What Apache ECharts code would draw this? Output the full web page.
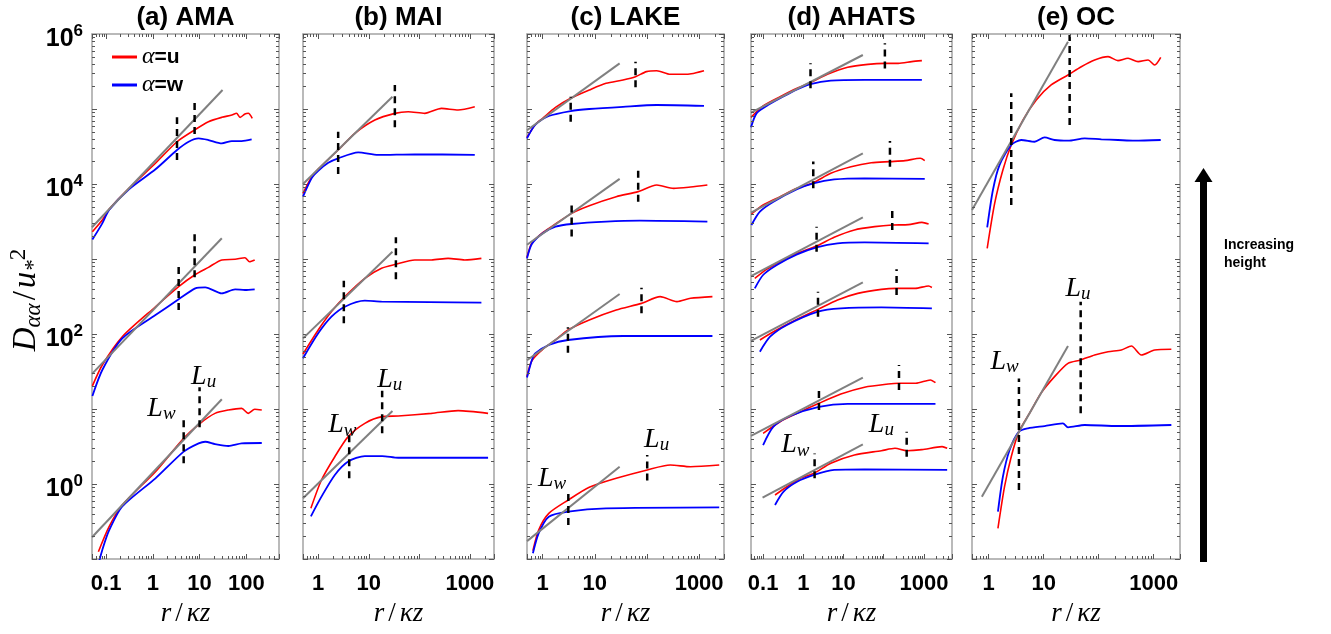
<!DOCTYPE html>
<html><head><meta charset="utf-8">
<script src="https://cdn.jsdelivr.net/npm/echarts@6/dist/echarts.min.js"></script>
<style>html,body{margin:0;padding:0;background:#fff}#c{width:1331px;height:634px}</style>
</head><body><div id="c"></div>
<script>
// ---------------- DATA ----------------
const panelTitles = ['(a) AMA', '(b) MAI', '(c) LAKE', '(d) AHATS', '(e) OC'];
const xMin = [0.05, 0.5, 0.5, 0.05, 0.5];
const xMax = [500, 3000, 3000, 5000, 3000];
const yMin = 0.1, yMax = 1e6;
const xTickLabels = [[0.1, 1, 10, 100], [1, 10, 1000], [1, 10, 1000], [0.1, 1, 10, 1000], [1, 10, 1000]];
const yTickLabels = [1, 100, 10000, 1000000];
const minorSteps = [2, 3, 4, 5, 6, 7, 8, 9];

// (a) AMA : groups from top to bottom
const uA = [
  [[0.051,2310],[0.083,3310],[0.116,4590],[0.309,8750],[1.14,18900],[3.29,36600],[7.83,52500],[15.5,67600],[29.9,77400],[49,83200],[61.7,87700],[73.5,77400],[93.3,85700],[110,87700],[134,75200]],
  [[0.051,20.3],[0.083,38.6],[0.222,92.0],[1.14,231],[3.57,428],[7.83,612],[15.5,774],[29.9,971],[57.5,991],[93.3,1040],[117,920],[151,971]],
  [[0.0685,0.125],[0.116,0.270],[0.222,0.525],[1.14,1.46],[4.57,4.06],[10.3,6.44],[21.4,8.75],[41.4,9.70],[79.4,10.2],[110,8.75],[151,9.91],[214,9.70]]
];
const wA = [
  [[0.051,1820],[0.083,2990],[0.116,4500],[0.309,8510],[1.14,15700],[3.29,28400],[5.83,36600],[9.55,40600],[15.5,38600],[29.9,34800],[49,37400],[79.4,37400],[130,39400]],
  [[0.051,14.9],[0.083,33.1],[0.222,87.5],[1.14,179],[3.57,290],[8.09,406],[13.2,419],[29.9,348],[57.5,394],[93.3,386],[151,394]],
  [[0.0685,0.085],[0.083,0.132],[0.116,0.240],[0.222,0.501],[1.14,1.19],[4.57,2.70],[9.55,3.48],[13.2,3.66],[21.4,3.41],[41.4,3.21],[79.4,3.48],[214,3.52]]
];
const fitA = [[[0.05,2650],[31,179000]], [[0.05,29.4],[29.9,1890]], [[0.05,0.195],[29.9,13.5]]];
const lwA = [[3.29,20900,77400],[3.57,209,791],[4.57,1.89,7.13]];
const luA = [[7.83,46500,132000],[7.83,570,2150],[10.0,5.70,19.5]];

// (b) MAI
const uB = [
  [[0.5,7520],[0.738,12300],[1.0,15800],[2.48,28400],[5.31,47400],[13.2,71300],[32.8,87500],[60.1,92000],[128,87500],[274,102000],[585,97000],[1250,107000]],
  [[0.5,54.1],[1.0,113],[1.83,199],[3.37,315],[8.36,552],[17.9,752],[34.4,849],[81.3,971],[174,971],[371,1020],[791,971],[1690,1020]],
  [[0.716,0.474],[1.16,1.13],[2.13,2.31],[3.92,4.28],[8.36,6.44],[18.4,7.91],[38.1,8.07],[174,8.75],[585,9.51],[2290,8.75]]
];
const wB = [
  [[0.5,6780],[0.738,11900],[1.0,15000],[1.58,19200],[2.48,22000],[6.17,26400],[15.3,24400],[81.3,24900],[1250,24400]],
  [[0.5,47.4],[1.0,102],[1.83,170],[3.37,231],[8.36,278],[17.9,270],[158,266],[1690,262]],
  [[0.716,0.371],[1.16,0.678],[2.13,1.32],[3.92,1.99],[8.36,2.36],[18.4,2.36],[38.1,2.24],[2290,2.24]]
];
const fitB = [[[0.5,10000],[29.4,146000]], [[0.5,87.5],[29.4,1250]], [[0.5,0.644],[29.4,9.40]]];
const lwB = [[2.48,13600,49900],[3.21,139,514],[4.10,1.19,4.50]];
const luB = [[32.8,57000,209000],[34.4,536,1950],[18.4,4.74,17.5]];

// (c) LAKE
const uC = [
  [[0.5,41900],[0.718,61700],[1.0,75200],[1.76,105000],[3.44,139000],[7.82,179000],[16.4,220000],[34.7,244000],[60.3,270000],[97.7,315000],[154,324000],[280,290000],[507,290000],[708,295000],[1240,324000]],
  [[0.5,1050],[0.619,1620],[1.0,2240],[1.76,2930],[3.59,4060],[7.82,5140],[25.7,6780],[67.8,7910],[154,9700],[324,8750],[684,9120],[1440,9700]],
  [[0.5,27.0],[0.619,44.0],[1.0,62.5],[1.76,83.2],[3.05,113],[7.82,154],[25.7,209],[78.5,256],[179,315],[376,270],[684,299],[1800,315]],
  [[0.649,0.129],[0.836,0.244],[1.31,0.406],[3.10,0.612],[7.82,0.904],[25.7,1.19],[101,1.54],[280,1.79],[684,1.70],[2430,1.79]]
];
const wC = [
  [[0.5,40600],[0.718,61200],[1.31,80700],[3.44,94000],[7.82,100000],[34.7,107000],[154,113000],[1240,110000]],
  [[0.5,1020],[0.619,1580],[1.0,2200],[1.76,2700],[3.59,2930],[16.4,3150],[73.1,3240],[1440,3150]],
  [[0.5,26.3],[0.619,44.7],[0.718,55.2],[1.31,71.3],[3.05,83.2],[34.7,94.0],[1800,94.0]],
  [[0.649,0.119],[0.836,0.220],[1.31,0.366],[3.10,0.428],[16.4,0.474],[2430,0.489]]
];
const fitC = [[[0.5,52100],[29.9,406000]], [[0.5,1550],[29.9,11700]], [[0.5,44.6],[29.9,341]], [[0.5,0.173],[29.9,1.70]]];
const lwC = [[3.44,67800,146000],[3.59,1990,5520],[3.05,56.4,123],[3.10,0.284,0.815]];
const luC = [[60.3,195000,428000],[67.8,5810,17000],[78.5,189,415],[101,1.11,2.44]];

// (d) AHATS
const uD = [
  [[0.05,77400],[0.1,110000],[0.265,146000],[0.698,189000],[1.51,224000],[3.98,290000],[12.7,360000],[40.5,394000],[107,406000],[231,406000],[499,428000],[891,441000]],
  [[0.0513,3980],[0.1,5250],[0.265,6780],[0.698,8750],[1.77,10400],[4.82,13900],[15.4,17000],[49.0,19200],[143,19900],[340,20500],[813,22000],[1050,20500]],
  [[0.0621,552],[0.122,728],[0.265,920],[0.698,1190],[2.14,1490],[5.86,1950],[18.7,2440],[59.7,2700],[163,2840],[412,2870],[891,3080],[1310,2930]],
  [[0.0832,83.2],[0.181,107],[0.698,157],[2.32,213],[7.11,284],[22.6,348],[87.5,394],[209,406],[607,406],[1310,437],[1580,417]],
  [[0.1,4.74],[0.265,6.77],[0.698,8.75],[2.45,11.9],[8.61,15.8],[33.4,19.5],[129,21.5],[240,22.0],[631,22.0],[1450,24.4],[1940,22.4]],
  [[0.198,0.713],[0.391,0.920],[0.845,1.19],[1.84,1.39],[4.82,1.89],[18.7,2.44],[87.5,2.78],[191,2.99],[373,2.78],[891,2.87],[2840,3.15],[3790,2.99]]
];
const wD = [
  [[0.05,57000],[0.0685,87500],[0.122,110000],[0.265,139000],[0.698,183000],[1.51,215000],[4.82,239000],[33.4,244000],[891,244000]],
  [[0.0513,2840],[0.0832,4280],[0.181,5810],[0.698,8510],[1.77,10200],[5.86,11500],[33.4,11900],[1050,11700]],
  [[0.0621,406],[0.1,612],[0.219,832],[0.698,1150],[2.14,1430],[7.11,1620],[33.4,1670],[1310,1620]],
  [[0.0832,58.1],[0.149,92.0],[0.391,132],[2.32,199],[8.61,220],[87.5,227],[1580,220]],
  [[0.1,3.31],[0.181,5.81],[0.473,8.07],[2.45,10.7],[12.7,11.7],[1940,11.7]],
  [[0.198,0.525],[0.323,0.791],[0.698,1.07],[1.84,1.32],[5.86,1.54],[33.4,1.57],[3790,1.54]]
];
const fitD = [[[0.05,89300],[30.3,525000]], [[0.05,4150],[30.3,25600]], [[0.05,593],[30.3,3600]], [[0.05,80.7],[30.3,489]], [[0.05,4.37],[30.3,26.2]], [[0.097,0.658],[30.3,3.38]]];
const lwD = [[1.51,189000,406000],[1.77,8750,19900],[2.14,1250,2700],[2.32,170,366],[2.45,9.70,18.9],[1.91,1.19,2.56]];
const luD = [[107,348000,752000],[143,17000,37400],[163,2440,5090],[209,331,728],[240,17.9,38.6],[373,2.31,4.99]];

// (e) OC
const uE = [
  [[0.944,1390],[1.29,5520],[1.82,15400],[2.58,33100],[4.21,71300],[7.35,132000],[13.7,209000],[27.7,284000],[48.3,366000],[84.5,450000],[148,499000],[224,441000],[341,474000],[519,428000],[787,450000],[1040,386000],[1340,489000]],
  [[1.48,0.256],[1.95,0.920],[2.58,2.31],[3.56,4.99],[5.56,8.81],[9.04,16.4],[15.8,27.0],[27.7,40.6],[47.1,45.0],[84.5,52.5],[148,58.1],[258,61.2],[393,69.2],[596,52.5],[1040,61.2],[2090,62.5]]
];
const wE = [
  [[0.944,2640],[1.20,8320],[1.58,17900],[2.58,33100],[3.92,38600],[6.85,36600],[10.4,41900],[15.8,38600],[27.7,37800],[55.6,40600],[112,39400],[224,38600],[451,37800],[1340,38600]],
  [[1.48,0.428],[1.82,1.25],[2.41,2.84],[3.56,4.99],[5.19,5.52],[10.4,5.93],[22.4,6.44],[27.7,5.70],[55.6,6.12],[224,5.93],[2090,6.12]]
];
const fitE = [[[0.5,4500],[27.7,791000]], [[0.755,0.678],[27.7,69.2]]];
const lwE = [[2.58,5250,162000],[3.56,0.832,25.6]];
const luE = [[29.7,61200,971000],[47.1,8.75,270]];

// positions (data coords) of the L_w / L_u annotations
const lwLabel = [[1.53,10.2],[3.0,6.1],[1.51,1.19],[0.632,3.31],[1.95,42.8]];
const luLabel = [[12.2,27],[26.1,24.4],[153,3.95],[87.5,6.12],[42.0,406]];

// ---------------- LAYOUT / STYLE ----------------
const grids = [[92,187],[303,191],[527,197],[751,201],[972,208]];
const GTOP = 34, GH = 525;
const SANS = 'Liberation Sans, Arial, sans-serif';
const SERIF = 'Liberation Serif, Times New Roman, serif';
const panels = [
  {u:uA, w:wA, fit:fitA, lw:lwA, lu:luA},
  {u:uB, w:wB, fit:fitB, lw:lwB, lu:luB},
  {u:uC, w:wC, fit:fitC, lw:lwC, lu:luC},
  {u:uD, w:wD, fit:fitD, lw:lwD, lu:luD},
  {u:uE, w:wE, fit:fitE, lw:lwE, lu:luE}
];
const AX = '#a3a3a3', TK = '#555';
function near(v, t) { return Math.abs(Math.log10(v) - Math.log10(t)) < 1e-6; }

const option = {
  animation: false,
  backgroundColor: '#fff',
  grid: [], xAxis: [], yAxis: [], series: [],
  legend: {
    data: [{name: 'α=u', icon: 'rect'}, {name: 'α=w', icon: 'rect'}],
    orient: 'vertical', left: 112, top: 45, padding: 0,
    itemWidth: 25, itemHeight: 3, itemGap: 4,
    formatter: n => n === 'α=u' ? '{a|α}{b|=u}' : '{a|α}{b|=w}',
    textStyle: {
      rich: {
        a: {fontFamily: SERIF, fontStyle: 'italic', fontSize: 24, color: '#000', lineHeight: 24},
        b: {fontFamily: SANS, fontWeight: 'bold', fontSize: 21, color: '#000', lineHeight: 24}
      }
    }
  },
  graphic: []
};

panels.forEach((p, i) => {
  const [gl, gw] = grids[i];
  option.grid.push({left: gl, top: GTOP, width: gw, height: GH, containLabel: false});
  const baseX = {
    type: 'log', logBase: 10, gridIndex: i, min: xMin[i], max: xMax[i],
    axisLine: {show: true, onZero: false, lineStyle: {color: AX, width: 1.5}},
    axisTick: {show: true, inside: true, length: 5, lineStyle: {color: TK, width: 1}},
    splitLine: {show: false}, minorTick: {show: false}
  };
  option.xAxis.push(Object.assign({}, baseX, {
    position: 'bottom',
    axisLabel: {
      show: true, margin: 14, color: '#000', fontFamily: SANS, fontWeight: 'bold', fontSize: 22,
      formatter: v => { const t = xTickLabels[i].find(tt => near(v, tt)); return t === undefined ? '' : String(t); }
    },
    name: '{r|r}{s|/}{r|κz}', nameLocation: 'middle', nameGap: 41,
    nameTextStyle: {
      rich: {
        r: {fontFamily: SERIF, fontStyle: 'italic', fontSize: 27, color: '#000'},
        s: {fontFamily: SERIF, fontSize: 27, color: '#000', padding: [0, 4, 0, 4]}
      }
    }
  }));
  option.xAxis.push(Object.assign({}, baseX, {position: 'top', axisLabel: {show: false}}));
  const baseY = {
    type: 'log', logBase: 10, gridIndex: i, min: yMin, max: yMax,
    axisLine: {show: true, onZero: false, lineStyle: {color: AX, width: 1.5}},
    axisTick: {show: true, inside: true, length: 5, lineStyle: {color: TK, width: 1}},
    splitLine: {show: false}, minorTick: {show: false}
  };
  option.yAxis.push(Object.assign({}, baseY, {
    position: 'left',
    axisLabel: i === 0 ? {
      show: true, margin: 9, padding: [10, 0, 0, 0],
      formatter: v => {
        const t = yTickLabels.find(tt => near(v, tt));
        return t === undefined ? '' : '{b|10}{s|' + Math.round(Math.log10(t)) + '}';
      },
      rich: {
        b: {fontFamily: SANS, fontWeight: 'bold', fontSize: 25, color: '#000', lineHeight: 32},
        s: {fontFamily: SANS, fontWeight: 'bold', fontSize: 17, color: '#000', lineHeight: 17, verticalAlign: 'top'}
      }
    } : {show: false}
  }));
  option.yAxis.push(Object.assign({}, baseY, {position: 'right', axisLabel: {show: false}}));

  const xi = 2 * i, yi = 2 * i;
  p.u.forEach(d => option.series.push({
    name: 'α=u', type: 'line', xAxisIndex: xi, yAxisIndex: yi, data: d, symbol: 'none', smooth: 0.25,
    lineStyle: {color: '#ff0000', width: 1.6}, itemStyle: {color: '#ff0000'}, z: 2
  }));
  p.w.forEach(d => option.series.push({
    name: 'α=w', type: 'line', xAxisIndex: xi, yAxisIndex: yi, data: d, symbol: 'none', smooth: 0.25,
    lineStyle: {color: '#0000ff', width: 1.8}, itemStyle: {color: '#0000ff'}, z: 2
  }));
  p.fit.forEach(d => option.series.push({
    name: 'fit', type: 'line', xAxisIndex: xi, yAxisIndex: yi, data: d, symbol: 'none',
    lineStyle: {color: '#808080', width: 2}, z: 3
  }));
  p.lw.concat(p.lu).forEach(m => option.series.push({
    name: 'L', type: 'line', xAxisIndex: xi, yAxisIndex: yi, data: [[m[0], m[1]], [m[0], m[2]]], symbol: 'none',
    lineStyle: {color: '#000', width: 2.5, type: [7, 5]}, z: 4
  }));
  const labRich = {
    i: {fontFamily: SERIF, fontStyle: 'italic', fontSize: 28, color: '#000', lineHeight: 30},
    s: {fontFamily: SERIF, fontStyle: 'italic', fontSize: 19, color: '#000', lineHeight: 19, verticalAlign: 'bottom'}
  };
  [[lwLabel[i], 'w'], [luLabel[i], 'u']].forEach(([pos, sub]) => option.series.push({
    name: 'lab', type: 'scatter', xAxisIndex: xi, yAxisIndex: yi, data: [pos], symbolSize: 2,
    itemStyle: {color: 'rgba(0,0,0,0)'}, silent: true, z: 6,
    label: {show: true, position: 'inside', opacity: 1, color: '#000', formatter: '{i|L}{s|' + sub + '}', rich: labRich}
  }));
  // minor ticks on all four sides (log 2..9 sub-decades)
  option.series.push({
    type: 'custom', xAxisIndex: xi, yAxisIndex: yi, silent: true, clip: false, z: 5,
    data: [[1, 1]],
    renderItem: function (params, api) {
      const cs = params.coordSys;
      const ch = [];
      const st = {stroke: TK, lineWidth: 1};
      for (let e = Math.floor(Math.log10(xMin[i])); e <= Math.ceil(Math.log10(xMax[i])); e++) {
        minorSteps.forEach(m => {
          const v = m * Math.pow(10, e);
          if (v <= xMin[i] || v >= xMax[i]) return;
          const px = Math.round(api.coord([v, 1])[0]) + 0.5;
          ch.push({type: 'line', shape: {x1: px, y1: cs.y + cs.height, x2: px, y2: cs.y + cs.height - 3}, style: st});
          ch.push({type: 'line', shape: {x1: px, y1: cs.y, x2: px, y2: cs.y + 3}, style: st});
        });
      }
      for (let e = Math.floor(Math.log10(yMin)); e <= Math.ceil(Math.log10(yMax)); e++) {
        minorSteps.forEach(m => {
          const v = m * Math.pow(10, e);
          if (v <= yMin || v >= yMax) return;
          const py = Math.round(api.coord([1, v])[1]) + 0.5;
          ch.push({type: 'line', shape: {x1: cs.x, y1: py, x2: cs.x + 3, y2: py}, style: st});
          ch.push({type: 'line', shape: {x1: cs.x + cs.width, y1: py, x2: cs.x + cs.width - 3, y2: py}, style: st});
        });
      }
      return {type: 'group', children: ch};
    }
  });
  option.graphic.push({
    type: 'text', x: gl + gw / 2, y: 18,
    style: {text: panelTitles[i], font: 'bold 26px ' + SANS, fill: '#000', textAlign: 'center', textVerticalAlign: 'middle'}
  });
});

// y axis title
option.graphic.push({
  type: 'text', x: 26, y: 300, rotation: Math.PI / 2,
  style: {
    text: '{d|D}{s|αα}{n|/}{d|u}{s|*}{p|2}', textAlign: 'center', textVerticalAlign: 'middle',
    rich: {
      d: {fontFamily: SERIF, fontStyle: 'italic', fontSize: 33, fill: '#000', lineHeight: 38},
      n: {fontFamily: SERIF, fontSize: 33, fill: '#000', lineHeight: 38, padding: [0, 3, 0, 3]},
      s: {fontFamily: SERIF, fontStyle: 'italic', fontSize: 23, fill: '#000', lineHeight: 23, verticalAlign: 'bottom'},
      p: {fontFamily: SERIF, fontSize: 23, fill: '#000', lineHeight: 23, verticalAlign: 'top'}
    }
  }
});
// "Increasing height" arrow
option.graphic.push({type: 'rect', shape: {x: 1200, y: 178, width: 7, height: 384}, style: {fill: '#000'}});
option.graphic.push({type: 'polygon', shape: {points: [[1203.5, 168], [1194.5, 182], [1212.5, 182]]}, style: {fill: '#000'}});
option.graphic.push({
  type: 'text', x: 1224, y: 236,
  style: {text: 'Increasing\nheight', font: 'bold 14px ' + SANS, fill: '#000', lineHeight: 18, textVerticalAlign: 'top'}
});

const chart = echarts.init(document.getElementById('c'));
chart.setOption(option);
</script></body></html>
